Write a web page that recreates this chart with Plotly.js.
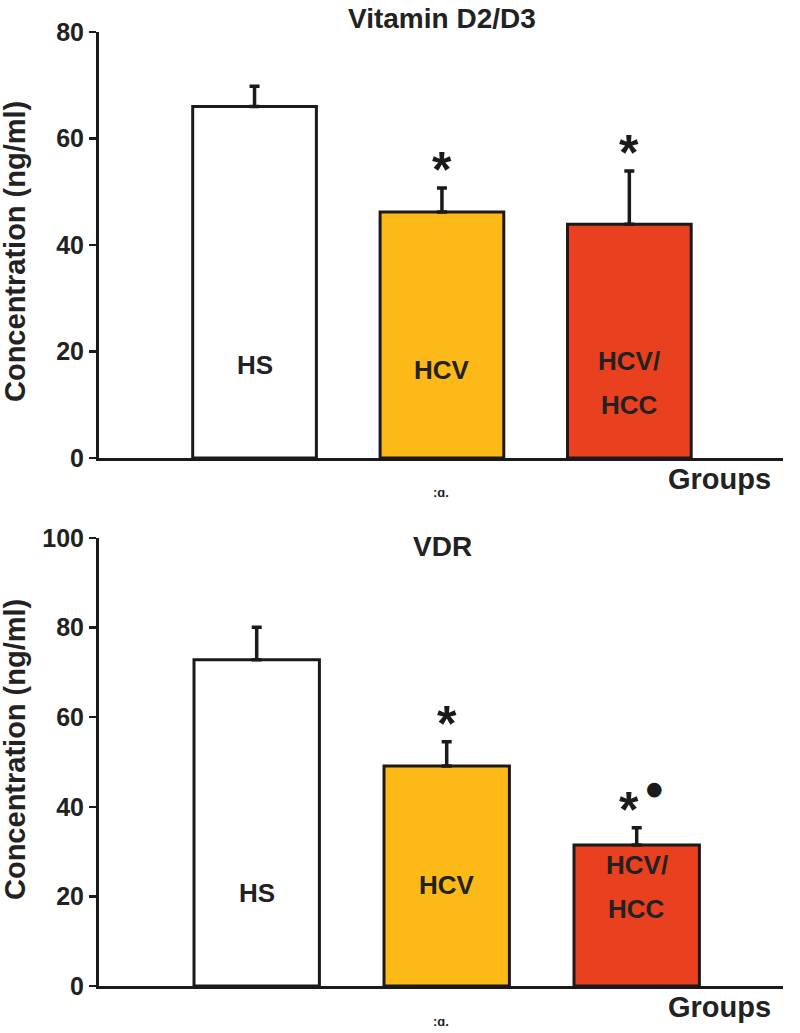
<!DOCTYPE html>
<html>
<head>
<meta charset="utf-8">
<script src="https://cdn.plot.ly/plotly-3.0.1.min.js"></script>
<style>
  body { margin: 0; background: #fff; }
  #chart { width: 800px; height: 1033px; }
</style>
</head>
<body>
<div id="chart"></div>
<script>
const groups = ['HS', 'HCV', 'HCV/HCC']
const groupLabels = [['HS'], ['HCV'], ['HCV/', 'HCC']]
const barColors = ['#ffffff', '#fdb917', '#e9401f']

// Vitamin D2/D3 (ng/ml)
const vitD = [66, 46.2, 43.9]
const vitDErr = [3.8, 4.5, 10]
const vitDMarks = ['', '*', '*']

// VDR (ng/ml)
const vdr = [72.8, 49.1, 31.5]
const vdrErr = [7.3, 5.4, 3.8]
const vdrMarks = ['', '*', '*']
const vdrDot = [false, false, true]

const W = 800, H = 1033
const px = (x) => x / W
const py = (y) => 1 - y / H

const font = { family: 'Liberation Sans, Arial, sans-serif', color: '#222', weight: 'bold' }
const withFont = (extra) => Object.assign({}, font, extra)

const barTrace = (values, errs, xa, ya) => ({
  type: 'bar',
  x: groups,
  y: values,
  xaxis: xa,
  yaxis: ya,
  width: 0.66,
  marker: { color: barColors, line: { color: '#1a1a1a', width: 3 } },
  error_y: {
    type: 'data', symmetric: false, array: errs, arrayminus: errs.map(() => 0),
    color: '#1a1a1a', thickness: 3.5, width: 5
  },
  hoverinfo: 'skip'
})

const xAxis = (range, anchor) => ({
  domain: [px(99), px(783)],
  range: range,
  anchor: anchor,
  showline: true, linecolor: '#1a1a1a', linewidth: 3,
  showticklabels: false, ticks: '', showgrid: false, zeroline: false,
  fixedrange: true
})

const yAxis = (domain, range, anchor) => ({
  domain: domain,
  range: range,
  dtick: 20,
  anchor: anchor,
  showline: true, linecolor: '#1a1a1a', linewidth: 3,
  ticks: 'outside', ticklen: 7, tickwidth: 2.5, tickcolor: '#1a1a1a',
  tickfont: withFont({ size: 25 }),
  showgrid: false, zeroline: false, automargin: false,
  fixedrange: true
})

const annotations = []

const note = (opts) => annotations.push(Object.assign({
  showarrow: false, xanchor: 'center', yanchor: 'middle'
}, opts))

const addPanel = (title, titleY, ytitleY, values, errs, marks, dots, xa, ya, labelY, axisY) => {
  note({ xref: 'paper', yref: 'paper', x: px(442), y: py(titleY), text: title, font: withFont({ size: 28 }) })
  note({
    xref: 'paper', yref: 'paper', x: px(15), y: py(ytitleY), textangle: -90,
    text: 'Concentration (ng/ml)', font: withFont({ size: 29 })
  })
  note({
    xref: 'paper', yref: 'paper', x: px(719), y: py(axisY + 21),
    text: 'Groups', font: withFont({ size: 29, weight: 600 })
  })
  note({ xref: 'paper', yref: 'paper', x: px(441), y: py(axisY + 35), text: ':ɑ.', font: withFont({ size: 13 }) })

  groups.forEach((g, i) => {
    const lines = groupLabels[i]
    lines.forEach((line, k) => {
      note({
        xref: xa, yref: ya, x: g, y: labelY[i],
        yshift: (lines.length - 1) * 22 - k * 44,
        text: line, font: withFont({ size: 26 })
      })
    })
    const hasDot = dots && dots[i]
    if (marks[i]) {
      note({
        xref: xa, yref: ya, x: g, y: values[i] + errs[i], yanchor: 'bottom',
        yshift: -12, xshift: hasDot ? -8 : 0,
        text: marks[i], font: withFont({ size: 50, color: '#1a1a1a' })
      })
    }
    if (hasDot) {
      note({
        xref: xa, yref: ya, x: g, y: values[i] + errs[i], xshift: 18, yshift: 40,
        text: '●', font: { family: 'DejaVu Sans', size: 19, color: '#1a1a1a' }
      })
    }
  })
}

addPanel('Vitamin D2/D3', 19, 252, vitD, vitDErr, vitDMarks, null, 'x', 'y', [17.5, 16.5, 14], 458)
addPanel('VDR', 546, 750, vdr, vdrErr, vdrMarks, vdrDot, 'x2', 'y2', [20.8, 22.5, 22], 986)

const data = [
  barTrace(vitD, vitDErr, 'x', 'y'),
  barTrace(vdr, vdrErr, 'x2', 'y2')
]

const layout = {
  width: W,
  height: H,
  margin: { l: 0, r: 0, t: 0, b: 0 },
  paper_bgcolor: '#fff',
  plot_bgcolor: '#fff',
  showlegend: false,
  xaxis: xAxis([-0.83, 2.82], 'y'),
  yaxis: yAxis([py(458), py(32)], [0, 80], 'x'),
  xaxis2: xAxis([-0.83, 2.77], 'y2'),
  yaxis2: yAxis([py(986), py(538)], [0, 100], 'x2'),
  annotations: annotations
}

Plotly.newPlot('chart', data, layout, { displayModeBar: false, staticPlot: true })
</script>
</body>
</html>
